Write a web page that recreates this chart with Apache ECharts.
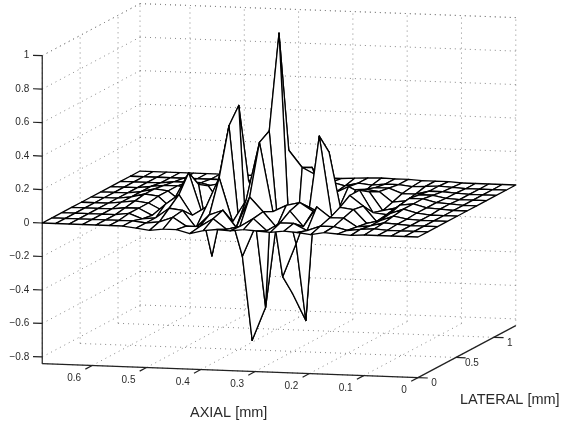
<!DOCTYPE html>
<html>
<head>
<meta charset="utf-8">
<style>
  html, body { margin: 0; padding: 0; background: #fff; }
  #chart { width: 563px; height: 427px; }
</style>
</head>
<body>
<div id="chart"></div>
<script src="https://cdn.jsdelivr.net/npm/echarts@6/dist/echarts.min.js"></script>
<script>
const axialTicks = [0, 0.1, 0.2, 0.3, 0.4, 0.5, 0.6]
const lateralTicks = [0, 0.5, 1]
const heightTicks = [-0.8, -0.6, -0.4, -0.2, 0, 0.2, 0.4, 0.6, 0.8, 1]
const axialMax = 0.692
const lateralMax = 1.29
const heightMin = -0.84
const heightMax = 1

// one row per lateral position (front to back), one value per axial position (0 to max)
const zRow0 = [0, 0, 0, 0, 0, -0.005, 0, 0.005, -0.01, 0, 0.005, -0.005, 0, 0.005, -0.005, 0, -0.01, -0.03, -0.01, -0.01, -0.02, -0.01, 0, 0, 0, 0, 0, 0, 0]
const zRow1 = [0, 0, 0, 0, 0.005, 0, -0.01, 0.01, 0.01, -0.02, 0.02, 0.02, -0.03, 0.04, -0.01, -0.03, 0.03, -0.02, -0.02, 0.03, 0, -0.01, 0, 0, 0, 0, 0, 0, 0]
const zRow2 = [0, 0, 0, 0.005, 0.01, -0.01, -0.02, 0.03, 0.03, 0.09, -0.03, 0.06, -0.04, 0.05, 0.135, -0.05, 0.05, 0.02, -0.06, 0.04, 0.05, -0.01, -0.02, 0.01, 0, 0, 0, 0, 0]
const zRow3 = [0, 0, 0, 0.005, 0.02, -0.01, -0.03, 0.05, 0.06, -0.03, 0.03, 0.08, 0.06, 0.02, 0.43, 0.08, -0.05, 0.21, 0.03, -0.02, 0.1, 0.04, -0.03, 0.01, 0.01, 0, 0, 0, 0]
const zRow4 = [0, 0, 0, 0.01, 0.03, 0, -0.05, 0.04, 0.1, -0.06, -0.02, 0.02, -0.2, -0.4, 0.467, -0.1, -0.287, 0.49, 0.07, -0.04, 0.2, 0.05, -0.03, 0.01, 0.02, 0.01, 0, 0, 0]
const zRow5 = [0, 0, 0.005, 0.01, 0.03, 0.02, -0.04, -0.03, 0.1, -0.14, -0.1, 0.415, -0.69, -0.53, 1.02, -0.62, -0.82, 0.58, 0.05, -0.325, 0.1, 0.1, -0.05, 0.02, 0.03, 0.01, 0, 0, 0]
const zRow6 = [0, 0, 0.005, 0.01, 0.03, 0.03, -0.03, -0.05, 0.06, 0.07, -0.1, 0.288, 0.15, 0.19, 0.29, -0.2, -0.1, 0.1, -0.02, -0.05, 0.06, 0.05, -0.04, 0.02, 0.03, 0.01, 0, 0, 0]
const zRow7 = [0, 0, 0, 0.005, 0.02, 0.02, -0.02, -0.03, 0.03, 0.04, -0.05, -0.08, -0.04, 0.16, 0.02, -0.1, 0.08, 0.04, -0.08, 0.03, 0.04, -0.02, 0.01, 0.02, 0.02, 0.01, 0, 0, 0]
const zRow8 = [0, 0, 0, 0.005, 0.01, 0.01, -0.01, -0.01, 0.02, 0.02, -0.02, 0.02, -0.02, 0.03, 0.02, -0.03, 0.03, 0.02, -0.03, 0.01, 0.02, -0.01, 0.01, 0.01, 0.01, 0, 0, 0, 0]
const zRow9 = [0, 0, 0, 0, 0.005, 0.01, 0.005, 0, 0.01, 0.01, 0, 0.01, -0.01, 0.01, 0.01, -0.01, 0.01, 0.01, -0.01, 0, 0.01, 0, 0, 0, 0, 0, 0, 0, 0]
const zRow10 = [0, 0, 0, 0, 0, 0.005, 0.005, 0.005, 0.01, 0.01, 0.012, 0.01, 0.005, 0, 0, 0.005, 0, 0, 0, 0, 0, 0, 0, 0, 0, 0, 0, 0, 0]
const zRows = [zRow0, zRow1, zRow2, zRow3, zRow4, zRow5, zRow6, zRow7, zRow8, zRow9, zRow10]

const fontFamily = '"Liberation Sans", Arial, sans-serif'
const textColor = '#2a2a2a'

// fixed camera of the 3D box, result is in the units of the hidden 2D axes
function project(x, y, z) {
  return [
    418 - x * 543 + y * 75.8,
    237 - x * 20.2 - y * 40.3 - z * 167.4
  ]
}

const nx = zRow0.length - 1
const ny = zRows.length - 1
const axialAt = i => i * axialMax / nx
const lateralAt = j => j * lateralMax / ny

// mesh cells, back to front so nearer cells cover farther ones
const cells = []
for (let j = ny - 1; j >= 0; j--) {
  for (let i = nx - 1; i >= 0; i--) {
    cells.push([i, j, zRows[j][i], zRows[j][i + 1], zRows[j + 1][i + 1], zRows[j + 1][i]])
  }
}

// dotted lines on the two back walls and the floor
const dotted = []
heightTicks.concat([heightMax]).forEach(z => {
  dotted.push([axialMax, 0, z, axialMax, lateralMax, z])
  dotted.push([axialMax, lateralMax, z, 0, lateralMax, z])
})
lateralTicks.concat([lateralMax]).forEach(y => {
  dotted.push([axialMax, y, heightMin, axialMax, y, heightMax])
  if (y < lateralMax) dotted.push([0, y, heightMin, axialMax, y, heightMin])
})
axialTicks.forEach(x => {
  dotted.push([x, lateralMax, heightMin, x, lateralMax, heightMax])
  dotted.push([x, 0, heightMin, x, lateralMax, heightMin])
})

const solid = [
  [axialMax, 0, heightMin, axialMax, 0, heightMax],
  [axialMax, 0, heightMin, 0, 0, heightMin],
  [0, 0, heightMin, 0, lateralMax, heightMin]
]
heightTicks.forEach(z => solid.push([axialMax, 0, z, axialMax + 0.017, 0, z]))
axialTicks.forEach(x => solid.push([x, 0, heightMin, x, -0.09, heightMin]))
lateralTicks.forEach(y => solid.push([0, y, heightMin, -0.018, y, heightMin]))

const labels = []
heightTicks.forEach(z => {
  const p = project(axialMax, 0, z)
  labels.push([p[0] - 13, p[1], String(z).replace('-', '\u2212'), 'right'])
})
axialTicks.forEach(x => {
  const p = project(x, 0, heightMin)
  labels.push([p[0] - (x === 0 ? 14 : 18), p[1] + 13, String(x), 'center'])
})
lateralTicks.forEach(y => {
  const p = project(0, y, heightMin)
  labels.push([p[0] + 16, p[1] + 6, String(y), 'center'])
})

function lineItem(params, api, style) {
  const a = api.coord(project(api.value(0), api.value(1), api.value(2)))
  const b = api.coord(project(api.value(3), api.value(4), api.value(5)))
  return {
    type: 'line',
    shape: { x1: a[0], y1: a[1], x2: b[0], y2: b[1] },
    style: style
  }
}

const chart = echarts.init(document.getElementById('chart'), null, { renderer: 'canvas' })
chart.setOption({
  animation: false,
  backgroundColor: '#fff',
  grid: { left: 0, right: 0, top: 0, bottom: 0 },
  xAxis: { type: 'value', min: 0, max: 563, show: false },
  yAxis: { type: 'value', min: 0, max: 427, inverse: true, show: false },
  series: [
    {
      type: 'custom',
      silent: true,
      clip: false,
      progressive: 0,
      encode: { x: 0, y: 1 },
      data: dotted,
      renderItem: (params, api) => lineItem(params, api, {
        stroke: '#888', lineWidth: 1, lineDash: [1, 4], fill: null
      })
    },
    {
      type: 'custom',
      silent: true,
      clip: false,
      progressive: 0,
      encode: { x: 0, y: 1 },
      data: solid,
      renderItem: (params, api) => lineItem(params, api, {
        stroke: '#222', lineWidth: 1.2, fill: null
      })
    },
    {
      type: 'custom',
      silent: true,
      clip: false,
      progressive: 0,
      encode: { x: 0, y: 1 },
      data: cells,
      renderItem: (params, api) => {
        const i = api.value(0)
        const j = api.value(1)
        const corners = [
          [i, j, api.value(2)],
          [i + 1, j, api.value(3)],
          [i + 1, j + 1, api.value(4)],
          [i, j + 1, api.value(5)]
        ]
        return {
          type: 'polygon',
          shape: { points: corners.map(c => api.coord(project(axialAt(c[0]), lateralAt(c[1]), c[2]))) },
          style: { fill: '#fff', stroke: '#000', lineWidth: 1.3, lineJoin: 'round' }
        }
      }
    },
    {
      type: 'custom',
      silent: true,
      clip: false,
      progressive: 0,
      encode: { x: 0, y: 1 },
      data: labels,
      renderItem: (params, api) => {
        const p = api.coord([api.value(0), api.value(1)])
        return {
          type: 'text',
          x: p[0],
          y: p[1],
          style: {
            text: labels[params.dataIndex][2],
            align: labels[params.dataIndex][3],
            verticalAlign: 'middle',
            fill: textColor,
            fontSize: 10,
            fontFamily: fontFamily
          }
        }
      }
    }
  ],
  graphic: [
    { type: 'text', left: 190, top: 405, style: { text: 'AXIAL [mm]', fill: textColor, fontSize: 14.5, fontFamily: fontFamily } },
    { type: 'text', left: 460, top: 392, style: { text: 'LATERAL [mm]', fill: textColor, fontSize: 14.5, fontFamily: fontFamily } }
  ]
})
</script>
</body>
</html>
